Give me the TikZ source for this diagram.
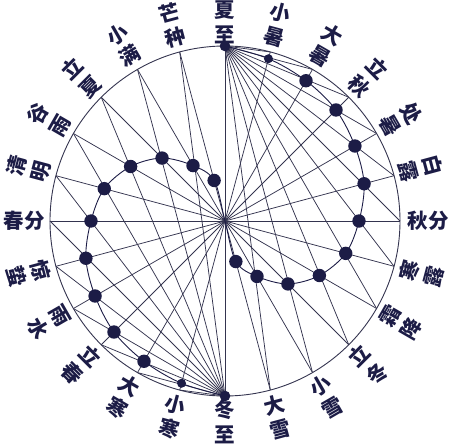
\documentclass[tikz,border=0pt]{standalone}
\usepackage{fontspec}
\usepackage{xcolor}
\newfontfamily\cjk{Noto Sans CJK SC}
\definecolor{taijiInk}{HTML}{1C1C46}
\definecolor{taijiLine}{HTML}{34344F}

\begin{document}
\begin{tikzpicture}[
    x=1pt, y=1pt,
    every node/.style={font=\cjk\bfseries\fontsize{20.5}{25}\selectfont, text=taijiInk, inner sep=0pt},
    rim/.style={draw=taijiLine, line width=0.9pt},
    chord/.style={draw=taijiLine, line width=0.75pt},
    trace/.style={draw=taijiInk, line width=0.9pt},
    dot/.style={circle, fill=taijiInk, inner sep=0pt, minimum size=13.4pt},
    tipdot/.style={circle, fill=taijiInk, inner sep=0pt, minimum size=10.6pt},
    smalldot/.style={circle, fill=taijiInk, inner sep=0pt, minimum size=9pt},
    term/.style={align=center},
]
  \useasboundingbox (-225,-224) rectangle (225,221);
  \coordinate (o) at (0,0);
  % rim points, k = 0 is Xiazhi at the top, then clockwise every 15 degrees
  \foreach \k in {0,...,23}{ \coordinate (p\k) at ({90-15*\k}:175); }
  % shadow points (k and k+12 share a radius)
  \foreach \k/\r in {0/175,1/168,2/162,3/157,4/150,5/144,6/134,7/125,8/109,9/89,10/64,11/42}{
    \pgfmathtruncatemacro\j{\k+12}
    \coordinate (d\k) at ({90-15*\k}:\r);
    \coordinate (d\j) at ({-90-15*\k}:\r);
  }
  % circle and diameters
  \draw[rim] (o) circle (175);
  \foreach \k in {0,...,11}{ \pgfmathtruncatemacro\j{\k+12} \draw[chord] (p\k) -- (p\j); }
  % fans from the two solstices
  \foreach \k in {1,...,11}{
    \pgfmathtruncatemacro\j{\k+12}
    \draw[chord] (p0) -- (p\k);
    \draw[chord] (p12) -- (p\j);
  }
  % the S curve
  \draw[trace] plot[smooth, tension=0.55] coordinates {
    (d0) (d1) (d2) (d3) (d4) (d5) (d6) (d7) (d8) (d9) (d10) (d11) (o)
    (d23) (d22) (d21) (d20) (d19) (d18) (d17) (d16) (d15) (d14) (d13) (d12)};
  % dots
  \node[tipdot] (n0) at (d0) {};
  \node[tipdot] (n12) at (d12) {};
  \node[smalldot] (n1) at (d1) {};
  \node[smalldot] (n13) at (d13) {};
  \foreach \k in {2,...,11}{ \node[dot] (n\k) at (d\k) {}; }
  \foreach \k in {14,...,23}{ \node[dot] (n\k) at (d\k) {}; }
  % term names (read downward along the ray)
  \foreach \k/\a/\t in {1/-15/小\\暑, 2/-30/大\\暑, 3/-45/立\\秋, 4/-60/处\\暑, 5/-75/白\\露,
      7/75/寒\\露, 8/60/霜\\降, 9/45/立\\冬, 10/30/小\\雪, 11/15/大\\雪,
      13/-15/小\\寒, 14/-30/大\\寒, 15/-45/立\\春, 16/-60/雨\\水, 17/-75/惊\\蛰,
      19/75/清\\明, 20/60/谷\\雨, 21/45/立\\夏, 22/30/小\\满, 23/15/芒\\种}{
    \node[term, rotate=\a] (l\k) at ({90-15*\k}:203) {\t};
  }
  \node[term] (l0) at (90:198.5) {夏\\至};
  \node[term] (l12) at (-90:200.5) {冬\\至};
  \node (l6) at (0:203) {秋分};
  \node (l18) at (180:200.5) {春分};
\end{tikzpicture}
\end{document}
